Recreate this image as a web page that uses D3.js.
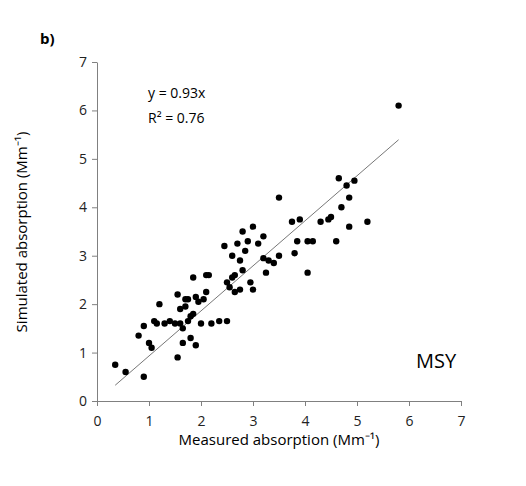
<!DOCTYPE html><html><head><script src="https://cdn.jsdelivr.net/npm/d3@7"></script>
<style>body{margin:0;background:#fff}text{font-family:"Open Sans","Liberation Sans",sans-serif}</style></head><body>
<svg id="c" width="526" height="486"></svg>
<script>
const xs=[0.35,0.55,0.8,0.9,0.9,1.0,1.05,1.1,1.15,1.2,1.3,1.4,1.5,1.55,1.55,1.6,1.6,1.65,1.65,1.7,1.7,1.75,1.75,1.8,1.8,1.85,1.85,1.9,1.9,1.95,2.0,2.05,2.1,2.1,2.15,2.2,2.35,2.45,2.5,2.5,2.55,2.6,2.6,2.65,2.65,2.7,2.75,2.75,2.8,2.8,2.85,2.9,2.95,3.0,3.0,3.1,3.2,3.2,3.25,3.3,3.4,3.5,3.5,3.75,3.8,3.85,3.9,4.05,4.05,4.15,4.3,4.45,4.5,4.6,4.65,4.7,4.8,4.85,4.85,4.95,5.2,5.8];
const ys=[0.75,0.6,1.35,0.5,1.55,1.2,1.1,1.65,1.6,2.0,1.6,1.65,1.6,0.9,2.2,1.6,1.9,1.2,1.5,1.95,2.1,2.1,1.65,1.3,1.75,2.55,1.8,1.15,2.15,2.05,1.6,2.1,2.25,2.6,2.6,1.6,1.65,3.2,1.65,2.45,2.35,2.55,3.0,2.6,2.25,3.25,2.9,2.3,2.7,3.5,3.1,3.3,2.45,3.6,2.3,3.25,3.4,2.95,2.65,2.9,2.85,3.0,4.2,3.7,3.05,3.3,3.75,3.3,2.65,3.3,3.7,3.75,3.8,3.3,4.6,4.0,4.45,3.6,4.2,4.55,3.7,6.1];
const slope=0.93, fitRange=[0.35,5.8];
const ticks=[0,1,2,3,4,5,6,7];
const svg=d3.select("#c");
const x=d3.scaleLinear().domain([0,7]).range([97,461]);
const y=d3.scaleLinear().domain([0,7]).range([401,62]);
const ax=svg.append("g").attr("transform","translate(0,401)").call(d3.axisBottom(x).tickValues(ticks).tickFormat(d3.format("d")).tickSize(5).tickSizeOuter(0));
const ay=svg.append("g").attr("transform","translate(97,0)").call(d3.axisLeft(y).tickValues(ticks).tickFormat(d3.format("d")).tickSize(5).tickSizeOuter(0));
[ax,ay].forEach(a=>{a.selectAll("path,line").attr("stroke","#808080");a.selectAll("text").attr("font-size",14).attr("fill","#222");});
ax.selectAll("text").attr("dy","1.2em");
ay.selectAll("text").attr("x",-10);
svg.append("line").attr("x1",x(fitRange[0])).attr("y1",y(slope*fitRange[0])).attr("x2",x(fitRange[1])).attr("y2",y(slope*fitRange[1])).attr("stroke","#777").attr("stroke-width",1);
svg.selectAll("circle.p").data(xs).join("circle").attr("cx",d=>x(d)).attr("cy",(d,i)=>y(ys[i])).attr("r",3.2).attr("fill","#000");
svg.append("text").attr("x",148).attr("y",98).attr("font-size",14).text("y = 0.93x");
svg.append("text").attr("x",148).attr("y",123).attr("font-size",14).text("R² = 0.76");
svg.append("text").attr("x",416).attr("y",368).attr("font-size",20).text("MSY");
svg.append("text").attr("x",40).attr("y",44).attr("font-size",15).attr("font-weight","bold").text("b)");
svg.append("text").attr("x",279).attr("y",445).attr("text-anchor","middle").attr("font-size",15).text("Measured absorption (Mm⁻¹)");
svg.append("text").attr("transform","translate(27,232) rotate(-90)").attr("text-anchor","middle").attr("font-size",15).text("Simulated absorption (Mm⁻¹)");
</script></body></html>
